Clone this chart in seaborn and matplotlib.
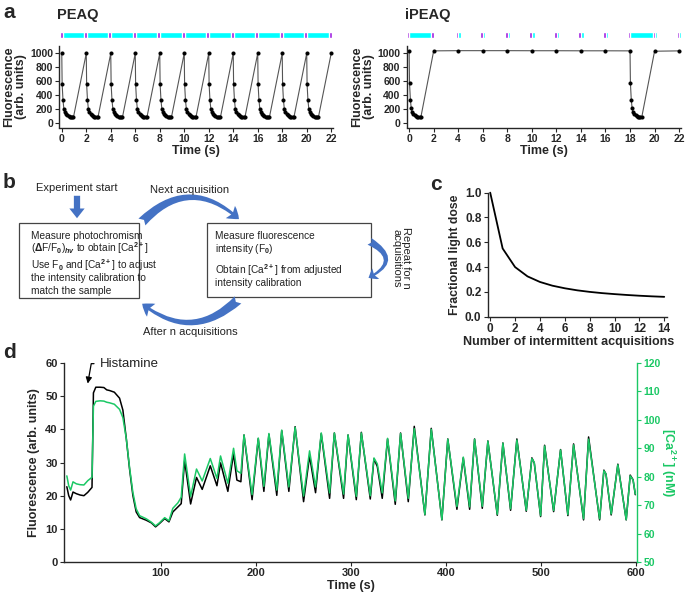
import numpy as np
import pandas as pd
import seaborn as sns
import matplotlib.pyplot as plt
import matplotlib.patches as mpatches

# ---- data -------------------------------------------------------------

# panel a : one photoswitching cycle (time offset inside a cycle, fluorescence)
cycle_dt = [0, 0.03, 0.1, 0.17, 0.25, 0.35, 0.45, 0.55, 0.65, 0.75, 0.85, 0.95]
peaq_cycle = [1000, 560, 330, 210, 160, 130, 112, 100, 93, 88, 85, 83]
peaq_starts = [0, 2, 4, 6, 8, 10, 12, 14, 16, 18, 20]
peaq_last_t, peaq_last_f = [22], [1000]

ipeaq_cycle = [1035, 580, 340, 215, 160, 130, 112, 100, 93, 88, 85, 83]
ipeaq_starts = [0, 18]
ipeaq_single_t = [2, 4, 6, 8, 10, 12, 14, 16, 20, 22]
ipeaq_single_f = [1035, 1038, 1038, 1038, 1037, 1037, 1036, 1036, 1030, 1035]

# illumination bars (start, width)
peaq_cyan = [(-0.15, 22.3)]
peaq_violet = [-0.12, 1.8, 3.8, 5.8, 7.8, 9.8, 11.8, 13.8, 15.8, 17.8, 19.8, 21.8]
ipeaq_cyan = [(-0.2, 2.3), (3.8, 0.42), (5.8, 0.42), (7.8, 0.42), (9.8, 0.42),
              (11.8, 0.42), (13.8, 0.42), (15.8, 0.42), (17.8, 2.42), (21.8, 0.35)]
ipeaq_violet = [-0.2, 1.8, 3.8, 5.8, 7.8, 9.8, 11.8, 13.8, 15.8, 17.8, 19.85, 21.8]

# panel c
n_acq = [0, 1, 2, 3, 4, 5, 6, 7, 8, 9, 10, 11, 12, 13, 14]
light_dose = [1.0, 0.55, 0.40, 0.325, 0.28, 0.25, 0.229, 0.2125, 0.2, 0.19,
              0.182, 0.175, 0.169, 0.164, 0.16]

# panel d : time (s), fluorescence (arb. units), [Ca2+] (nM)
d_time = [1, 3, 5, 7.5, 11, 15, 19, 23, 27.5, 29, 31.5, 36, 40, 43, 46, 51, 56.5, 60,
          63.6, 67, 70.5, 74, 77.6, 84.6, 90, 94.4, 98.5, 104, 108.5, 112.6, 117.9,
          121.4, 125, 131.3, 137.5, 143.5, 152, 159, 162.8, 170.5, 176.5, 180, 184.2,
          187.5, 196, 202.5, 208.4, 213.7, 222, 227.2, 234.7, 241.3, 250.2, 256.5,
          262.8, 268.8, 277.6, 282.6, 292.3, 297, 305.7, 311, 320.4, 324.3, 327.8,
          333, 338.6, 346.7, 352.3, 360.4, 366.7, 377.9, 384.6, 395.8, 402, 411.6,
          418.3, 425, 430.2, 438.3, 444.2, 454.1, 460, 468.1, 474.7, 484.6, 490.5,
          493, 499.7, 503.9, 513.4, 520.7, 528.4, 534.4, 544.9, 550.2, 561.8, 566.3,
          568.5, 574, 581, 589.8, 594, 597, 599.4]
d_fluor = [22.7, 20.0, 18.7, 21.1, 20.6, 20.2, 20.0, 21.0, 22.5, 51.0, 52.7, 52.7,
           52.6, 51.9, 51.7, 51.2, 49.4, 45.8, 37.2, 28.1, 20.1, 15.1, 13.4, 12.6,
           11.8, 10.6, 11.6, 13.1, 12.1, 15.1, 16.6, 17.6, 30.6, 17.5, 25.5, 21.9,
           29.0, 23.0, 29.9, 21.3, 32.7, 24.7, 24.2, 38.3, 18.8, 37.2, 21.3, 38.5,
           20.1, 39.6, 21.3, 40.8, 18.2, 32.0, 20.9, 38.7, 19.2, 38.9, 19.2, 38.3,
           18.8, 39.1, 19.0, 31.1, 28.8, 19.2, 37.1, 17.4, 38.9, 18.2, 40.9, 14.2,
           40.3, 12.7, 37.1, 15.9, 31.4, 15.9, 37.1, 16.2, 36.5, 14.1, 35.9, 15.6,
           37.1, 15.3, 31.4, 29.9, 13.7, 35.2, 15.2, 33.9, 14.0, 35.6, 12.7, 37.7,
           12.7, 27.7, 26.5, 14.2, 29.5, 12.7, 26.2, 24.8, 20.3]
d_ca = [80.3, 76.8, 75.3, 78.2, 77.5, 77.2, 77.1, 78.6, 79.8, 104.8, 106.5, 106.7,
        106.6, 106.2, 106.0, 105.5, 103.7, 100.8, 93.4, 83.3, 74.5, 68.7, 66.3, 65.2,
        64.0, 62.7, 63.8, 65.6, 64.5, 68.9, 70.8, 72.8, 88.0, 73.1, 82.7, 78.5,
        86.4, 79.4, 87.3, 77.7, 90.0, 82.1, 81.2, 94.7, 73.7, 93.6, 76.6, 95.2,
        75.3, 96.4, 76.4, 97.4, 73.2, 89.1, 76.4, 95.4, 74.3, 95.4, 73.9, 94.7,
        73.1, 95.4, 73.3, 86.6, 84.5, 74.3, 93.5, 71.5, 95.2, 72.4, 96.9, 66.7,
        96.7, 64.9, 93.2, 69.5, 86.9, 69.4, 93.2, 69.6, 92.5, 66.8, 91.8, 68.7,
        92.9, 68.2, 86.4, 85.0, 66.3, 90.8, 68.1, 89.4, 66.7, 91.2, 65.2, 93.2,
        65.2, 82.1, 81.0, 66.9, 84.2, 64.9, 80.3, 78.9, 73.9]

# ---- style ------------------------------------------------------------
sns.set_style('ticks')
plt.rcParams['font.family'] = ['Liberation Sans', 'DejaVu Sans']
plt.rcParams['font.weight'] = 'bold'
plt.rcParams['axes.labelweight'] = 'bold'
plt.rcParams['mathtext.fontset'] = 'custom'
plt.rcParams['mathtext.rm'] = 'Liberation Sans'
plt.rcParams['mathtext.it'] = 'Liberation Sans:italic'
plt.rcParams['mathtext.bf'] = 'Liberation Sans:bold'
plt.rcParams['axes.linewidth'] = 1.0
plt.rcParams['xtick.major.size'] = 3
plt.rcParams['ytick.major.size'] = 3

CYAN = '#00FFFF'
VIOLET = '#A020E0'
GREEN = '#1BC865'
BLUE = '#4472C4'

fig = plt.figure(figsize=(6.85, 6.0), dpi=100)


def fig_xy(px, py):
    return px / 685, 1 - py / 600


def bold_ticks(ax):
    for lbl in ax.get_xticklabels() + ax.get_yticklabels():
        lbl.set_fontweight('bold')


def cycle_series(starts, cyc, extra_t, extra_f):
    t, f = [], []
    for s in starts:
        t += [s + d for d in cycle_dt]
        f += list(cyc)
    df = pd.DataFrame({'t': t + list(extra_t), 'f': f + list(extra_f)})
    return df.sort_values('t')


# ---- panel a ----------------------------------------------------------
panel_a = [
    ('PEAQ', [0.0866, 0.7875, 0.3996, 0.1353], cycle_series(peaq_starts, peaq_cycle, peaq_last_t, peaq_last_f),
     peaq_cyan, peaq_violet, 0.24),
    ('iPEAQ', [0.5937, 0.7875, 0.4004, 0.1353], cycle_series(ipeaq_starts, ipeaq_cycle, ipeaq_single_t, ipeaq_single_f),
     ipeaq_cyan, ipeaq_violet, 0.22),
]
for name, pos, df, cyan, violet, vw in panel_a:
    ax = fig.add_axes(pos)
    sns.lineplot(data=df, x='t', y='f', ax=ax, color='#555555', lw=0.8, sort=False,
                 estimator=None, marker='o', markersize=2.2, markerfacecolor='black',
                 markeredgecolor='black')
    ax.set_xlim(-0.2, 22.15)
    ax.set_ylim(-60, 1100)
    ax.set_xticks(range(0, 23, 2))
    ax.set_yticks(range(0, 1001, 200))
    ax.tick_params(labelsize=7.5, pad=1.5)
    bold_ticks(ax)
    ax.set_xlabel('Time (s)', fontsize=9, labelpad=1)
    ax.set_ylabel('Fluorescence\n(arb. units)', fontsize=9, labelpad=2, linespacing=1.0)
    sns.despine(ax=ax)

    bar = fig.add_axes([pos[0], 0.936, pos[2], 0.011])
    bar.broken_barh(cyan, (0, 1), facecolors=CYAN)
    bar.broken_barh([(v, vw) for v in violet], (0, 1), facecolors=VIOLET)
    bar.set_xlim(ax.get_xlim())
    bar.set_ylim(0, 1)
    bar.axis('off')
    fig.text(pos[0] - 0.003, 0.975, name, fontsize=10.5, ha='left', va='center')

fig.text(*fig_xy(3, 12), 'a', fontsize=15, va='center')

# ---- panel b (flow chart) ----------------------------------------------
fig.text(*fig_xy(3, 183), 'b', fontsize=15, va='center')
ntext = dict(fontsize=8, fontweight='normal', color='#222222')
btext = dict(fontsize=7.3, fontweight='normal', color='#222222')

fig.text(*fig_xy(77, 188), 'Experiment start', ha='center', va='center', **ntext)
fig.text(*fig_xy(190, 190), 'Next acquisition', ha='center', va='center', **ntext)
fig.text(*fig_xy(190, 332), 'After n acquisitions', ha='center', va='center', **ntext)
fig.text(*fig_xy(401, 258), 'Repeat for n\nacquisitions', ha='center', va='center',
         rotation=-90, linespacing=1.0, **ntext)

for (x0, y0, x1, y1) in [(19.3, 223.3, 139.3, 298.3), (207.3, 223.3, 370.7, 296.7)]:
    lx, ly = fig_xy(x0, y1)
    fig.patches.append(mpatches.Rectangle((lx, ly), (x1 - x0) / 685, (y1 - y0) / 600,
                                          transform=fig.transFigure, fill=False,
                                          ec='#444444', lw=0.9))

left_lines = ['Measure photochromism',
              r'($\Delta$F/F$_0$)$_{hv}$ to obtain [Ca$^{2+}$]',
              r'Use F$_0$ and [Ca$^{2+}$] to adjust',
              'the intensity calibration to',
              'match the sample']
left_y = [235.5, 248, 265, 278.3, 291.5]
for s, y in zip(left_lines, left_y):
    fig.text(*fig_xy(31.5, y), s, ha='left', va='center', **btext)

right_lines = ['Measure fluorescence',
               r'intensity (F$_0$)',
               r'Obtain [Ca$^{2+}$] from adjusted',
               'intensity calibration']
right_y = [235.5, 249.5, 270, 282.7]
for s, y in zip(right_lines, right_y):
    fig.text(*fig_xy(215, y), s, ha='left', va='center', **btext)

arrows = [
    ((77, 193), (77, 221), 'arc3,rad=0', 'Simple,head_length=7,head_width=11,tail_width=4.5'),
    ((140, 224), (241, 221), 'arc3,rad=-0.5', 'Fancy,head_length=8,head_width=11,tail_width=7'),
    ((240, 298), (140, 302), 'arc3,rad=-0.45', 'Fancy,head_length=8,head_width=11,tail_width=7'),
    ((367, 240), (366, 279), 'arc3,rad=-1.0', 'Fancy,head_length=6,head_width=9,tail_width=5.5'),
]
for a, b, cs, st in arrows:
    fig.patches.append(mpatches.FancyArrowPatch(fig_xy(*a), fig_xy(*b), transform=fig.transFigure,
                                                connectionstyle=cs, arrowstyle=st,
                                                mutation_scale=1, color=BLUE, lw=0))

# ---- panel c ----------------------------------------------------------
fig.text(*fig_xy(430, 184), 'c', fontsize=15, va='center')
axc = fig.add_axes([0.712, 0.4722, 0.2613, 0.2067])
sns.lineplot(x=n_acq, y=light_dose, ax=axc, color='black', lw=1.3, clip_on=False)
axc.set_xlim(-0.2, 14.2)
axc.set_ylim(0, 1.0)
axc.set_xticks(range(0, 15, 2))
axc.set_yticks([0, 0.2, 0.4, 0.6, 0.8, 1.0])
axc.set_yticklabels(['0.0', '0.2', '0.4', '0.6', '0.8', '1.0'])
axc.tick_params(labelsize=8.5, pad=1.5)
bold_ticks(axc)
axc.set_xlabel('Number of intermittent acquisitions', fontsize=9, labelpad=1)
axc.xaxis.label.set_x(0.45)
axc.set_ylabel('Fractional light dose', fontsize=8.8, labelpad=3)
sns.despine(ax=axc)

# ---- panel d ----------------------------------------------------------
fig.text(*fig_xy(3, 352), 'd', fontsize=15, va='center')
axd = fig.add_axes([0.0934, 0.0633, 0.837, 0.3317])
sns.lineplot(x=d_time, y=d_fluor, ax=axd, color='black', lw=1.1, sort=False, estimator=None)
axd.set_xlim(-2, 601.5)
axd.set_ylim(0, 60)
axd.set_xticks([100, 200, 300, 400, 500, 600])
axd.set_yticks(range(0, 61, 10))
axd.tick_params(labelsize=8, pad=1.5)
bold_ticks(axd)
axd.set_xlabel('Time (s)', fontsize=9, labelpad=1)
axd.set_ylabel('Fluorescence (arb. units)', fontsize=9, labelpad=4)
axd.spines['top'].set_visible(False)
axd.spines['right'].set_visible(False)

axd2 = axd.twinx()
sns.lineplot(x=d_time, y=d_ca, ax=axd2, color=GREEN, lw=1.1, sort=False, estimator=None)
axd2.set_ylim(50, 120)
axd2.set_yticks(range(50, 121, 10))
axd2.tick_params(axis='y', labelsize=7.5, pad=1.5, colors=GREEN)
bold_ticks(axd2)
axd2.spines['right'].set_color(GREEN)
axd2.spines['top'].set_visible(False)
axd2.spines['left'].set_visible(False)
axd2.spines['bottom'].set_visible(False)
axd2.set_ylabel(r'[Ca$^{\mathbf{2+}}$] (nM)', fontsize=9, color=GREEN, rotation=-90, labelpad=12)

axd.annotate('Histamine', xy=(23, 53.8), xytext=(36, 59.8), fontsize=9.5, fontweight='normal',
             ha='left', va='center', color='#222222',
             arrowprops=dict(arrowstyle='-|>', color='black', lw=0.9, shrinkA=2, shrinkB=0,
                             mutation_scale=9, connectionstyle='angle,angleA=0,angleB=80,rad=0'))

fig.savefig('out.png', dpi=100)
